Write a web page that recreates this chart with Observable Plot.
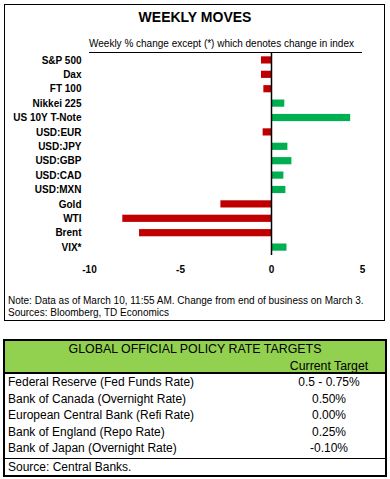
<!DOCTYPE html>
<html><head><meta charset="utf-8">
<script src="https://cdn.jsdelivr.net/npm/d3@7"></script>
<script src="https://cdn.jsdelivr.net/npm/@observablehq/plot@0.6"></script>
<style>
body{margin:0;background:#fff;font-family:Arial,"Liberation Sans",sans-serif;color:#000;}
#root{position:relative;width:390px;height:479px;overflow:hidden;background:#fff;}
#box{position:absolute;left:4px;top:4px;width:381px;height:317px;border:1px solid #000;box-sizing:border-box;}
#title{position:absolute;left:0;width:390px;top:9px;text-align:center;font-weight:bold;font-size:14px;line-height:16px;}
#sub{position:absolute;top:38px;font-size:10px;line-height:12px;text-align:center;white-space:nowrap;}
#uline{position:absolute;height:0;border-top:1px solid #000;}
#chart{position:absolute;left:0;top:0;}
#note{position:absolute;left:8px;top:295px;font-size:10px;line-height:11.5px;white-space:nowrap;}
#tbl{position:absolute;left:3px;top:339px;width:384px;height:138px;border:2px solid #000;box-sizing:border-box;font-size:12px;}
#hdr{background:#92D050;height:33px;border-bottom:2px solid #000;position:relative;box-sizing:border-box;}
#hdrTitle{position:absolute;left:0;right:0;top:1px;text-align:center;font-size:12.4px;line-height:14px;}
#hdrCol{position:absolute;left:274px;width:100px;top:18px;text-align:center;line-height:14px;font-size:12.3px;}
.row{position:relative;height:16.6px;line-height:16.6px;}
.row .n{position:absolute;left:3px;}
.row .v{position:absolute;left:274px;width:100px;text-align:center;}
#src{border-top:1.5px solid #000;height:17px;line-height:16px;padding-left:3px;margin-top:1px;}
</style></head>
<body><div id="root">
<div id="box"></div>
<div id="title">WEEKLY MOVES</div>
<div id="sub">Weekly % change except (*) which denotes change in index</div>
<div id="uline"></div>
<div id="chart"></div>
<div id="note">Note: Data as of March 10, 11:55 AM. Change from end of business on March 3.<br>Sources: Bloomberg, TD Economics</div>
<div id="tbl">
  <div id="hdr"><div id="hdrTitle">GLOBAL OFFICIAL POLICY RATE TARGETS</div><div id="hdrCol">Current Target</div></div>
  <div id="rows"></div>
  <div id="src">Source: Central Banks.</div>
</div>
</div>
<script>
const labels = ["S&P 500","Dax","FT 100","Nikkei 225","US 10Y T-Note","USD:EUR","USD:JPY","USD:GBP","USD:CAD","USD:MXN","Gold","WTI","Brent","VIX*"];
const changes = [-0.55,-0.55,-0.42,0.73,4.35,-0.46,0.9,1.12,0.68,0.79,-2.78,-8.17,-7.25,0.85];
const xTicks = [-10,-5,0,5];
const banks = ["Federal Reserve (Fed Funds Rate)","Bank of Canada (Overnight Rate)","European Central Bank (Refi Rate)","Bank of England (Repo Rate)","Bank of Japan (Overnight Rate)"];
const targets = ["0.5 - 0.75%","0.50%","0.00%","0.25%","-0.10%"];

const data = labels.map((k,i)=>({k, v: changes[i]}));
const chart = Plot.plot({
  width: 390, height: 280,
  marginLeft: 89, marginRight: 28, marginTop: 52, marginBottom: 25,
  x: {domain: [-10, 5], ticks: xTicks, tickFormat: d => String(d), tickSize: 0, tickPadding: 10, label: null},
  y: {domain: labels, paddingInner: 0.5, paddingOuter: 0.3, round: false, tickSize: 0, tickPadding: 8, label: null},
  style: {fontFamily: 'Arial, "Liberation Sans", sans-serif', fontSize: "10px", fontWeight: "bold", background: "transparent", color: "#000"},
  marks: [
    Plot.barX(data.filter(d=>d.v<0), {x: "v", y: "k", fill: "#C00000"}),
    Plot.barX(data.filter(d=>d.v>=0), {x: "v", y: "k", fill: "#00B050"}),
    Plot.ruleX([0], {stroke: "#000", strokeWidth: 1.5})
  ]
});
document.getElementById("chart").appendChild(chart);
const xr = chart.scale("x").range;
const ul = document.getElementById("uline");
ul.style.left = xr[0] + "px"; ul.style.width = (xr[1]-xr[0]) + "px"; ul.style.top = "52px";
const sub = document.getElementById("sub");
sub.style.left = (xr[0]) + "px"; sub.style.width = (xr[1]-xr[0]-8) + "px";

const rows = document.getElementById("rows");
banks.forEach((b,i)=>{
  const r = document.createElement("div"); r.className = "row";
  r.innerHTML = `<span class="n"></span><span class="v"></span>`;
  r.querySelector(".n").textContent = b;
  r.querySelector(".v").textContent = targets[i];
  rows.appendChild(r);
});
</script>
</body></html>
